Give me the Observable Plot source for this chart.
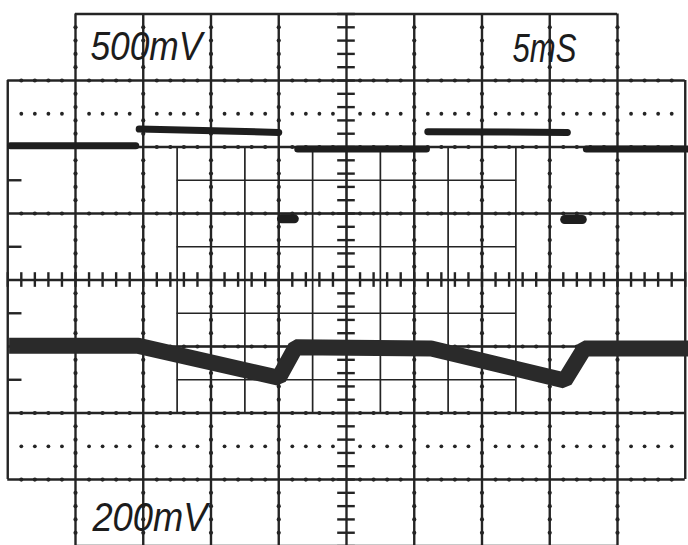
<!DOCTYPE html>
<html>
<head>
<meta charset="utf-8">
<script src="https://cdn.jsdelivr.net/npm/d3@7"></script>
<script src="https://cdn.jsdelivr.net/npm/@observablehq/plot@0.6"></script>
<style>
  html, body { margin: 0; padding: 0; background: #ffffff; }
  #chart svg { display: block; }
</style>
</head>
<body>
<div id="chart"></div>
<script>
// ---- Data (graticule divisions: x = time div, y = vertical div) ----
// Channel 1 (500mV/div) square wave: segments of constant level
const ch1Seg = ["a","a","b","b","c","c","d","d","e","e"];
const ch1X   = [-4.96,-3.11, -3.06,-1.00, -0.72,1.18, 1.20,3.26, 3.54,5.05];
const ch1Y   = [ 2.02, 2.02,  2.27, 2.22,  1.97,1.97, 2.23,2.22, 1.97,1.97];
// Short glitch marks of channel 1 at transitions
const glitchX1 = [-0.96, 3.22];
const glitchX2 = [-0.77, 3.48];
const glitchY  = [ 0.92, 0.91];
// Channel 2 (200mV/div) sawtooth-like trace
const ch2X = [-4.98, -3.07, -1.00, -0.75, 1.25, 3.22, 3.51, 5.05];
const ch2Y = [-0.99, -0.99, -1.47, -1.01, -1.03, -1.51, -1.03, -1.03];
// Scale labels
const labelText = ["500mV", "5mS", "200mV"];
const labelX    = [-3.78, 2.45, -3.75];
const labelY    = [3.50, 3.47, -3.57];
// Graticule layout (divisions)
const majorV = [-4,-3,-2,-1,1,2,3,4];
const majorH = [-3,-2,-1,1,2,3];
const edgeTicks = [1.5, 0.5, -0.5, -1.5];
const dotRows = [2.5, -2.5];

// ---- Derived structures ----
const ch1 = ch1X.map((x,i)=>({x, y: ch1Y[i], s: ch1Seg[i]}));
const ch2 = ch2X.map((x,i)=>({x, y: ch2Y[i]}));
const glitches = glitchX1.map((x1,i)=>({x1, x2: glitchX2[i], y: glitchY[i]}));
const labels = labelText.map((t,i)=>({t, x: labelX[i], y: labelY[i]}));

const step = 0.2;
const isInt = v => Math.abs(v - Math.round(v)) < 1e-6;
const yBeads = d3.range(-4, 4.001, step).map(v=>+v.toFixed(2)).filter(v=>!isInt(v));
const xBeads = d3.range(-5, 5.001, step).map(v=>+v.toFixed(2)).filter(v=>!isInt(v));
const beadsV = majorV.flatMap(x => yBeads.map(y=>({x,y})));
const beadsH = majorH.flatMap(y => xBeads.map(x=>({x,y})));
const dotPts = dotRows.flatMap(y => xBeads.map(x=>({x,y})));
const axisTicksY = d3.range(-4, 4.001, step).map(v=>+v.toFixed(2)).filter(v=>Math.abs(v)>1e-6);
const axisTicksX = d3.range(-5, 5.001, step).map(v=>+v.toFixed(2)).filter(v=>Math.abs(v)>1e-6);
const fineV = d3.range(-2.5, 2.501, 0.5).map(v=>+v.toFixed(2));
const fineH = d3.range(-2, 2.001, 0.5).map(v=>+v.toFixed(2));

const ink = "#242424";
const W = 688, H = 545;

const svg = Plot.plot({
  width: W, height: H,
  margin: 0, marginTop: 0, marginRight: 0, marginBottom: 0, marginLeft: 0,
  style: {background: "#ffffff"},
  x: {domain: [-5.107, 5.048], axis: null},
  y: {domain: [-3.992, 4.203], axis: null},
  marks: [
    // fine inner grid
    Plot.ruleX(fineV, {x: d=>d, y1: -2, y2: 2, stroke: ink, strokeWidth: 1.7}),
    Plot.ruleY(fineH, {y: d=>d, x1: -2.5, x2: 2.5, stroke: ink, strokeWidth: 1.7}),
    // tall box and major verticals
    Plot.ruleX(majorV.concat([0]), {x: d=>d, y1: -4, y2: 4, stroke: ink, strokeWidth: 2.4}),
    Plot.ruleY([4, -4], {y: d=>d, x1: -4, x2: 4, stroke: ink, strokeWidth: 2.4}),
    // wide box and major horizontals
    Plot.ruleX([-5, 5], {x: d=>d, y1: -3, y2: 3, stroke: ink, strokeWidth: 2.4}),
    Plot.ruleY(majorH.concat([0]), {y: d=>d, x1: -5, x2: 5, stroke: ink, strokeWidth: 2.4}),
    // beads on major lines
    Plot.dot(beadsV, {x: "x", y: "y", r: 2.1, fill: ink, stroke: null}),
    Plot.dot(beadsH, {x: "x", y: "y", r: 2.1, fill: ink, stroke: null}),
    // dotted rows
    Plot.dot(dotPts, {x: "x", y: "y", r: 1.9, fill: ink, stroke: null}),
    // center axis ticks
    Plot.ruleY(axisTicksY, {y: d=>d, x1: -0.13, x2: 0.13, stroke: ink, strokeWidth: 2.4}),
    Plot.ruleX(axisTicksX, {x: d=>d, y1: -0.11, y2: 0.11, stroke: ink, strokeWidth: 2.4}),
    // left edge ticks
    Plot.ruleY(edgeTicks, {y: d=>d, x1: -5, x2: -4.79, stroke: ink, strokeWidth: 2.4}),
    // channel 2 trace (thick band)
    Plot.line(ch2, {x: "x", y: "y", stroke: "#2a2a2a", strokeWidth: 16, strokeLinejoin: "miter", strokeLinecap: "butt"}),
    // channel 1 trace
    Plot.line(ch1, {x: "x", y: "y", z: "s", stroke: "#1e1e1e", strokeWidth: 7, strokeLinecap: "round"}),
    Plot.link(glitches, {x1: "x1", x2: "x2", y1: "y", y2: "y", stroke: "#1e1e1e", strokeWidth: 9, strokeLinecap: "round"}),
    // labels
    Plot.text(labels, {x: "x", y: "y", text: "t", textAnchor: "start", lineAnchor: "middle",
      fontSize: 41, fontStyle: "italic", fontFamily: "Liberation Sans, Arial, sans-serif", fill: "#1c1c1c"})
  ]
});

// compress label widths to match the engraved lettering
const labelWidths = [112, 64, 115];
d3.select(svg).selectAll("g[aria-label='text'] text").each(function(_, i){
  d3.select(this).attr("textLength", labelWidths[i]).attr("lengthAdjust", "spacingAndGlyphs");
});

document.getElementById("chart").appendChild(svg);
</script>
</body>
</html>
